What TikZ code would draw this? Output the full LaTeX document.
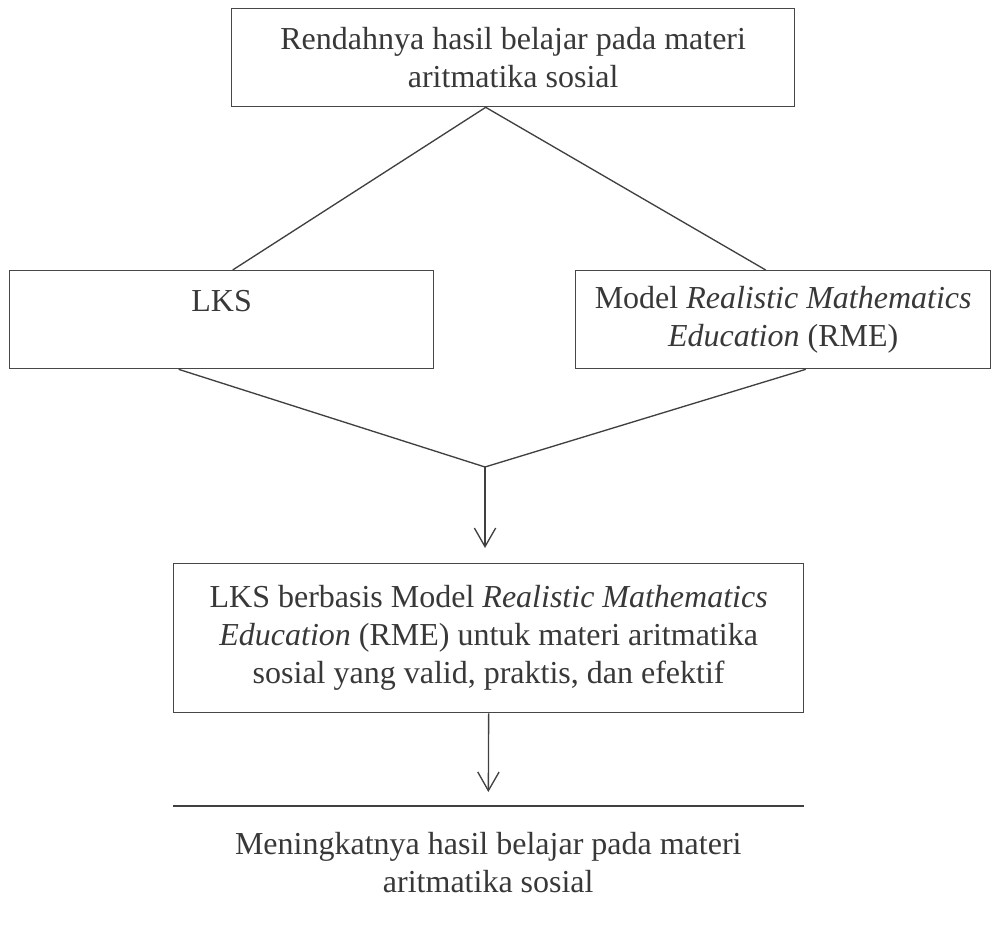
\documentclass[tikz,border=0pt]{standalone}
\usepackage{fontspec}
\setmainfont{Liberation Serif}
\usepackage{xcolor}
\usetikzlibrary{positioning, arrows.meta}

\begin{document}
\begin{tikzpicture}[
    x=0.75pt, y=-0.75pt,
    every node/.style={rectangle, align=center, text=black!78, inner sep=0pt,
        font=\fontsize{24pt}{28.5pt}\selectfont},
    box/.style={draw=black!72, line width=1pt, anchor=north west},
    line/.style={draw=black!75, line width=1pt},
    arrow/.style={line, -{Straight Barb[length=14pt, width=16pt, line width=1pt]}}
]
\useasboundingbox (0,0) rectangle (992,952);
\node (RENDAH) [box, minimum width=422.25pt, minimum height=73.5pt] at (231,8) {Rendahnya hasil belajar pada materi\\aritmatika sosial};
\node (LKS) [box, minimum width=318pt, minimum height=73.5pt] at (9,270) {LKS\\~};
\node (RME) [box, minimum width=311.25pt, minimum height=73.5pt] at (575,270) {Model \textit{Realistic Mathematics}\\\textit{Education} (RME)};
\node (LKSRME) [box, minimum width=472.5pt, minimum height=111.75pt] at (173,563) {LKS berbasis Model \textit{Realistic Mathematics}\\\textit{Education} (RME) untuk materi aritmatika\\sosial yang valid, praktis, dan efektif};
\node (HASIL) [anchor=north west, minimum width=472.5pt, inner ysep=19.5pt] at (173,806) {Meningkatnya hasil belajar pada materi\\aritmatika sosial};
\coordinate (SPLIT) at ([xshift=-20.6pt]RENDAH.south);
\coordinate (MEET) at (485,467);
\draw [line] (SPLIT) -- ([xshift=8.25pt]LKS.north);
\draw [line] (SPLIT) -- ([xshift=-13.1pt]RME.north);
\draw [line] ([xshift=-32.25pt]LKS.south) -- (MEET);
\draw [line] ([xshift=16.9pt]RME.south) -- (MEET);
\draw [arrow, shorten >=11.25pt] (MEET) -- (MEET |- LKSRME.north);
\draw [arrow, shorten >=10.5pt] (LKSRME.south) -- (HASIL.north);
\draw [line] (HASIL.north west) -- (HASIL.north east);

\end{tikzpicture}
\end{document}
